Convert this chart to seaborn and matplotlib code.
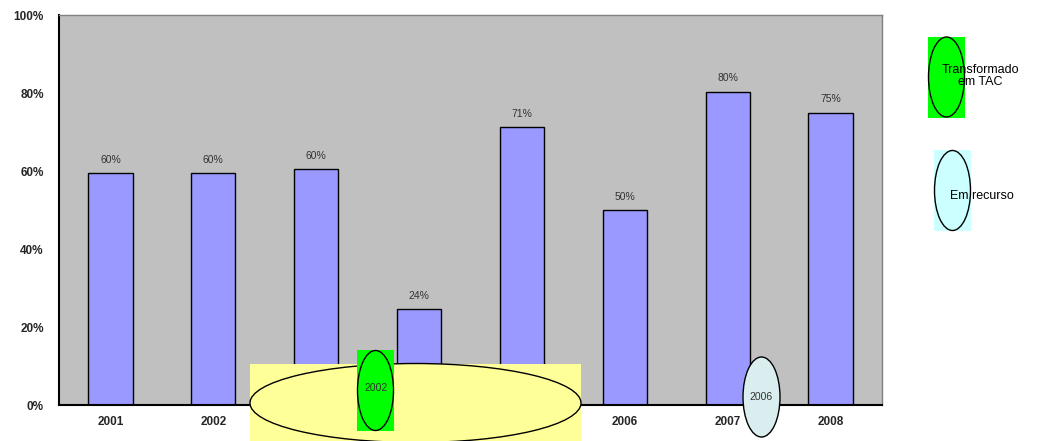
import matplotlib
matplotlib.use("Agg")
import matplotlib.pyplot as plt
from matplotlib.patches import Rectangle, Ellipse
import seaborn as sns
import pandas as pd

years = ["2001", "2002", "2003", "2004", "2005", "2006", "2007", "2008"]
values = [59.5, 59.5, 60.5, 24.5, 71.3, 50.0, 80.3, 75.0]
value_labels = ["60%", "60%", "60%", "24%", "71%", "50%", "80%", "75%"]
y_ticks = [0, 20, 40, 60, 80, 100]
y_tick_labels = ["0%", "20%", "40%", "60%", "80%", "100%"]
legend_labels = ["Transformado\nem TAC", "Em recurso"]
marker_labels = ["2002", "2006"]

sns.set_theme(style="white")
plt.rcParams["font.family"] = ["Liberation Sans", "DejaVu Sans"]

df = pd.DataFrame({"year": years, "value": values})

fig = plt.figure(figsize=(10.37, 4.41), dpi=100)
ax = fig.add_axes([59 / 1037, 36 / 441, 823 / 1037, 390 / 441])
ax.set_facecolor("#C0C0C0")
sns.barplot(data=df, x="year", y="value", color="#9999FF", saturation=1,
            width=0.43, edgecolor="black", linewidth=1, ax=ax)
ax.set_ylim(0, 100)
ax.set_xlim(-0.5, len(years) - 0.5)
ax.set_yticks(y_ticks)
ax.set_yticklabels(y_tick_labels, fontsize=8.5, fontweight="bold")
ax.set_xticks(range(len(years)))
ax.set_xticklabels(years, fontsize=8.5, fontweight="bold")
ax.set_xlabel("")
ax.set_ylabel("")
ax.tick_params(axis="y", direction="out", length=5, width=1, color="black", pad=6)
ax.tick_params(axis="x", length=0, pad=8)
for s in ["left", "bottom"]:
    ax.spines[s].set_color("black")
    ax.spines[s].set_linewidth(1.5)
for s in ["top", "right"]:
    ax.spines[s].set_color("#808080")
    ax.spines[s].set_linewidth(1)
ax.grid(False)
for i, (v, lab) in enumerate(zip(values, value_labels)):
    ax.annotate(lab, (i, v), xytext=(0, 6), textcoords="offset points",
                ha="center", va="bottom", fontsize=7.5, color="#333333")

# overlay shapes in pixel coordinates
ov = fig.add_axes([0, 0, 1, 1])
ov.set_xlim(0, 1037)
ov.set_ylim(441, 0)
ov.axis("off")
ov.patch.set_alpha(0)

ov.add_patch(Rectangle((250, 364), 331, 77, facecolor="#FFFF99", edgecolor="none"))
ov.add_patch(Ellipse((415.5, 403), 331, 79, facecolor="none", edgecolor="black", lw=1))
ov.add_patch(Rectangle((357, 350), 37, 81, facecolor="#00FF00", edgecolor="none"))
ov.add_patch(Ellipse((375.5, 390.5), 36, 80, facecolor="none", edgecolor="black", lw=1))
ov.text(376, 388, marker_labels[0], ha="center", va="center", fontsize=7.5, color="#333333")

ov.add_patch(Ellipse((761.5, 397), 37, 80, facecolor="#DAEEF0", edgecolor="black", lw=1))
ov.text(761.5, 397, marker_labels[1], ha="center", va="center", fontsize=7.5, color="#333333")

ov.add_patch(Rectangle((928, 37), 37, 81, facecolor="#00FF00", edgecolor="none"))
ov.add_patch(Ellipse((946.5, 77), 36, 80, facecolor="none", edgecolor="black", lw=1))
ov.text(980, 76, legend_labels[0], ha="center", va="center", fontsize=9,
        color="black", linespacing=1.1)

ov.add_patch(Rectangle((934, 150), 37, 81, facecolor="#CCFFFF", edgecolor="none"))
ov.add_patch(Ellipse((952.5, 190.5), 36, 80, facecolor="none", edgecolor="black", lw=1))
ov.text(982, 196, legend_labels[1], ha="center", va="center", fontsize=9, color="black")

fig.savefig("out.png", dpi=100)
